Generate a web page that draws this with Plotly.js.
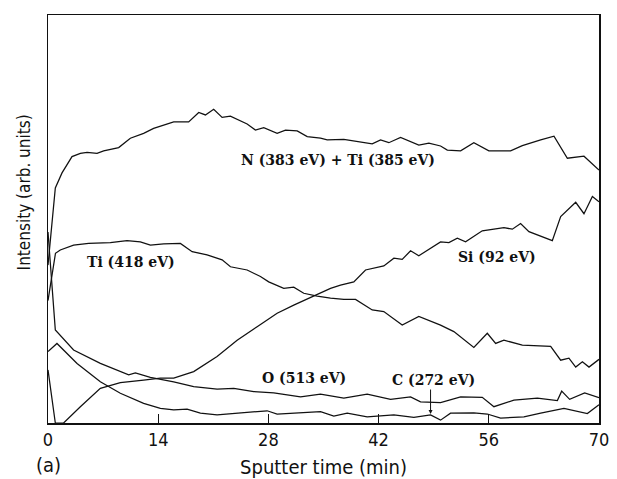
<!DOCTYPE html>
<html>
<head>
<meta charset="utf-8">
<script src="https://cdn.plot.ly/plotly-3.0.1.min.js"></script>
<style>html,body{margin:0;padding:0;background:#fff;}#chart{width:617px;height:479px;}</style>
</head>
<body>
<div id="chart"></div>
<script>
// Sputter time (min) and intensity (arb. units, 0-100 scale)
var nTime = [0, 0.93, 1.78, 3.05, 4.11, 4.96, 6.23, 7.07, 8.98, 10.46, 12.15, 13.42, 15.97, 17.87, 19.15, 20.0, 21.05, 22.12, 23.17, 25.3, 26.35, 27.41, 29.11, 30.17, 31.66, 32.93, 34.62, 35.47, 37.58, 39.7, 41.19, 42.25, 43.3, 44.79, 47.11, 48.39, 49.87, 50.73, 52.42, 54.1, 56.01, 58.77, 60.26, 62.59, 64.28, 65.98, 68.09, 70.0];
var nInt  = [38.7, 57.6, 61.3, 65.3, 66.1, 66.3, 66.1, 66.7, 67.5, 69.8, 71.0, 72.2, 73.8, 73.8, 76.1, 75.5, 76.9, 74.9, 75.2, 73.3, 71.8, 72.4, 71.0, 71.8, 71.6, 70.2, 69.8, 69.4, 69.5, 68.9, 68.4, 69.4, 68.7, 70.0, 68.1, 68.6, 67.9, 66.9, 66.7, 68.7, 66.7, 66.7, 68.0, 69.4, 70.3, 64.9, 65.4, 62.0];

var tiTime = [0, 0.95, 1.56, 3.25, 5.16, 7.92, 10.04, 11.73, 13.01, 14.7, 16.82, 18.31, 20.21, 22.12, 23.18, 25.3, 26.99, 28.04, 29.95, 31.22, 32.49, 34.2, 35.89, 37.58, 39.07, 41.19, 42.66, 45.0, 47.11, 49.87, 51.56, 54.1, 55.81, 56.87, 57.92, 60.26, 63.86, 65.13, 66.18, 67.04, 67.89, 68.73, 70.0];
var tiInt  = [30.0, 41.6, 42.4, 43.6, 44.0, 44.2, 44.7, 44.4, 43.6, 43.9, 44.0, 42.0, 41.2, 40.0, 38.3, 37.5, 35.9, 34.6, 33.0, 33.3, 31.8, 31.1, 30.6, 30.3, 30.3, 27.7, 27.3, 24.0, 26.1, 24.0, 22.4, 18.5, 22.0, 19.5, 20.3, 19.1, 18.8, 15.4, 15.9, 13.7, 15.0, 13.7, 15.6];

var siTime = [0, 0.93, 1.98, 4.11, 6.65, 9.19, 12.15, 14.28, 15.97, 18.51, 21.48, 24.03, 26.57, 29.11, 31.22, 33.77, 35.89, 37.16, 38.85, 40.34, 42.66, 43.94, 45.0, 46.06, 47.11, 49.87, 50.93, 52.0, 53.05, 55.17, 57.92, 58.99, 60.04, 61.1, 64.07, 65.13, 67.04, 68.09, 69.16, 70.0];
var siInt  = [13.0, 0, 0, 4.0, 8.5, 9.9, 10.5, 11.0, 11.0, 12.6, 16.3, 20.3, 23.6, 26.9, 28.9, 31.1, 33.0, 33.8, 34.6, 37.5, 38.5, 40.4, 40.1, 42.2, 41.0, 44.4, 44.2, 45.3, 44.4, 47.1, 47.9, 47.5, 48.9, 46.9, 44.7, 50.6, 54.1, 51.3, 55.5, 54.2];

var oTime = [0, 0.93, 3.25, 6.65, 10.25, 11.1, 13.0, 15.97, 18.51, 21.48, 23.6, 26.14, 28.68, 30.38, 32.08, 34.62, 37.58, 40.55, 43.52, 46.06, 47.33, 49.87, 52.42, 55.17, 56.65, 59.19, 62.17, 64.71, 65.26, 66.27, 68.18, 70.0];
var oInt  = [46.8, 22.8, 17.9, 14.6, 11.8, 12.3, 11.2, 10.1, 8.9, 8.3, 8.5, 7.7, 7.4, 6.9, 6.4, 7.1, 6.1, 7.1, 5.8, 6.4, 5.2, 5.0, 6.4, 6.3, 4.0, 5.6, 6.1, 5.5, 7.8, 5.8, 7.4, 6.2];

var cTime = [0, 1.14, 3.69, 6.65, 9.19, 12.15, 14.28, 15.97, 17.67, 19.36, 21.48, 24.45, 27.84, 29.11, 32.08, 34.62, 36.31, 38.01, 40.55, 43.94, 46.48, 48.6, 49.87, 51.14, 54.1, 55.81, 57.5, 60.46, 62.59, 65.55, 68.52, 70.0];
var cInt  = [17.5, 19.5, 14.6, 10.1, 7.3, 4.8, 3.6, 3.2, 3.4, 2.4, 2.0, 2.4, 3.0, 2.2, 2.5, 2.8, 1.7, 2.4, 1.5, 2.0, 1.4, 2.0, 0.7, 2.4, 2.5, 2.2, 1.2, 1.5, 2.4, 3.6, 2.3, 4.5];

var xTicks = [0, 14, 28, 42, 56, 70];
var labelN  = 'N (383 eV) + Ti (385 eV)';
var labelTi = 'Ti (418 eV)';
var labelSi = 'Si (92 eV)';
var labelO  = 'O (513 eV)';
var labelC  = 'C (272 eV)';

var lineStyle = {color: '#111', width: 1.25};
function tr(x, y, name) {
  return {x: x, y: y, name: name, type: 'scatter', mode: 'lines', line: lineStyle, hoverinfo: 'x+y+name'};
}
var data = [
  tr(nTime, nInt, labelN),
  tr(tiTime, tiInt, labelTi),
  tr(siTime, siInt, labelSi),
  tr(oTime, oInt, labelO),
  tr(cTime, cInt, labelC)
];

var labFont = {family: 'DejaVu Serif, Liberation Serif, serif', size: 14, color: '#111', weight: 'bold'};
var sansFam = 'Liberation Sans Narrow, DejaVu Sans Condensed, Arial Narrow, sans-serif';
var tickFont = {family: sansFam, size: 18, color: '#111'};

var layout = {
  width: 617, height: 479,
  margin: {l: 48, r: 18, t: 15, b: 56, pad: 0},
  paper_bgcolor: '#fff', plot_bgcolor: '#fff',
  showlegend: false,
  xaxis: {
    range: [0, 70], tickvals: xTicks, ticktext: xTicks.map(String),
    ticks: 'inside', ticklen: 9, tickwidth: 1.2, tickcolor: '#111',
    showline: true, mirror: true, linecolor: '#111', linewidth: 1.5,
    showgrid: false, zeroline: false, tickfont: tickFont,
    title: {text: 'Sputter time (min)', font: {family: sansFam, size: 20, color: '#111'}, standoff: 11}
  },
  yaxis: {
    range: [0, 100], showticklabels: false, ticks: '',
    showline: true, mirror: true, linecolor: '#111', linewidth: 1.5,
    showgrid: false, zeroline: false
  },
  annotations: [
    {x: 36.78, y: 64.5, xref: 'x', yref: 'y', text: labelN, showarrow: false, font: labFont},
    {x: 10.53, y: 39.5, xref: 'x', yref: 'y', text: labelTi, showarrow: false, font: labFont},
    {x: 56.99, y: 40.8, xref: 'x', yref: 'y', text: labelSi, showarrow: false, font: labFont},
    {x: 32.5, y: 10.96, xref: 'x', yref: 'y', text: labelO, showarrow: false, font: labFont},
    {x: 49.02, y: 10.5, xref: 'x', yref: 'y', text: labelC, showarrow: false, font: labFont},
    {x: 48.6, y: 2.2, xref: 'x', yref: 'y', text: '', showarrow: true, ax: 0, ay: -26,
     arrowhead: 2, arrowsize: 0.8, arrowwidth: 1, arrowcolor: '#111', standoff: 0},
    {x: 0, y: -0.103, xref: 'paper', yref: 'paper', text: '(a)', showarrow: false,
     font: {family: sansFam, size: 20, color: '#111'}, xanchor: 'center', yanchor: 'middle'},
    {x: -0.043, y: 0.566, xref: 'paper', yref: 'paper', text: 'Intensity (arb. units)', showarrow: false,
     textangle: -90, font: {family: sansFam, size: 17, color: '#111'}, xanchor: 'center', yanchor: 'middle'}
  ]
};

Plotly.newPlot('chart', data, layout, {displayModeBar: false, staticPlot: true});
</script>
</body>
</html>
